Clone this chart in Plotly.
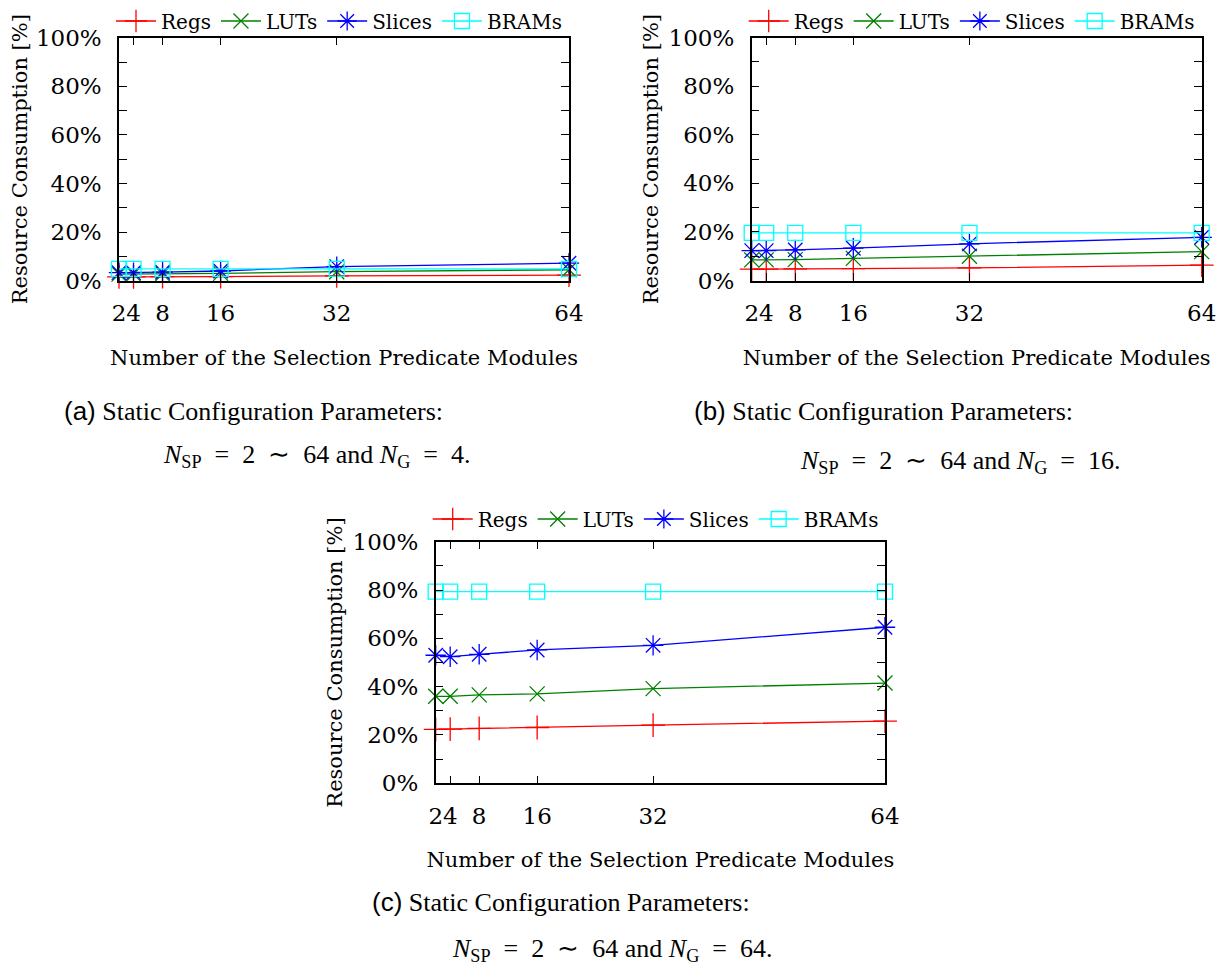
import plotly.graph_objects as go

# ---------------- data ----------------
x_modules = [2, 4, 8, 16, 32, 64]
x_ticklabels = ["2", "4", "8", "16", "32", "64"]
series_names = ["Regs", "LUTs", "Slices", "BRAMs"]

# (a) N_G = 4
regs_a = [1.6, 1.6, 1.7, 1.7, 2.0, 2.3]
luts_a = [2.7, 2.7, 2.8, 3.0, 3.7, 4.5]
slices_a = [3.3, 3.3, 3.5, 4.0, 5.8, 7.2]
brams_a = [4.9, 4.9, 4.9, 4.9, 4.9, 4.9]

# (b) N_G = 16
regs_b = [4.7, 4.7, 4.8, 4.9, 5.2, 6.3]
luts_b = [8.5, 8.5, 8.6, 9.1, 10.0, 11.9]
slices_b = [12.3, 12.3, 12.6, 13.3, 15.1, 17.8]
brams_b = [19.6, 19.6, 19.6, 19.6, 19.6, 19.6]

# (c) N_G = 64
regs_c = [22.3, 22.4, 22.7, 23.1, 24.1, 25.7]
luts_c = [36.0, 36.0, 36.6, 37.0, 39.2, 41.5]
slices_c = [53.0, 52.4, 53.4, 55.2, 57.1, 64.6]
brams_c = [79.3, 79.3, 79.3, 79.3, 79.3, 79.3]

y_tickvals = [0, 20, 40, 60, 80, 100]
y_ticktext = ["0%", "20%", "40%", "60%", "80%", "100%"]

x_title = "Number of the Selection Predicate Modules"
y_title = "Resource Consumption [%]"

captions = [
    ("(a)", "4"),
    ("(b)", "16"),
    ("(c)", "64"),
]

# ---------------- styles ----------------
colors = ["#ff0000", "#008000", "#0000ff", "#00ffff"]
symbols = ["cross-thin-open", "x-thin-open", "asterisk-open", "square-open"]
msizes = [17, 15, 17, 15]

W, H = 1230, 979
OFF = 8  # page body margin offset
def px_x(v):
    return (v - OFF) / W
def px_y(v):
    return 1 - (v - OFF) / H

# plot frames in reference pixels (left, right, top, bottom)
frames = [
    (119, 569, 37.7, 280.7),
    (751.7, 1201.7, 37.7, 280.5),
    (435.7, 885, 541.7, 783.3),
]
legend_y = [21, 21, 519]

panels = [
    [regs_a, luts_a, slices_a, brams_a],
    [regs_b, luts_b, slices_b, brams_b],
    [regs_c, luts_c, slices_c, brams_c],
]

FONT = "DejaVu Serif"
fig = go.Figure()

for p, data in enumerate(panels):
    xa = "x" if p == 0 else f"x{p+1}"
    ya = "y" if p == 0 else f"y{p+1}"
    lg = "legend" if p == 0 else f"legend{p+1}"
    for i, name in enumerate(series_names):
        fig.add_trace(go.Scatter(
            x=x_modules, y=data[i], name=name, mode="lines+markers",
            xaxis=xa, yaxis=ya, legend=lg, cliponaxis=False,
            line=dict(color=colors[i], width=1.3),
            marker=dict(symbol=symbols[i], size=msizes[i], color=colors[i],
                        line=dict(color=colors[i], width=1.3)),
        ))

layout = dict(
    width=W, height=H,
    margin=dict(l=0, r=0, t=0, b=0, autoexpand=False),
    paper_bgcolor="white", plot_bgcolor="white",
    font=dict(family=FONT, size=20, color="black"),
    showlegend=True,
)

for p, (l, r, t, b) in enumerate(frames):
    sx = "" if p == 0 else str(p + 1)
    layout[f"xaxis{sx}"] = dict(
        domain=[px_x(l), px_x(r)], range=[2, 64], anchor=f"y{sx}",
        tickvals=x_modules, ticktext=x_ticklabels, tickangle=0,
        ticks="inside", ticklen=8, tickwidth=1, tickcolor="black",
        showline=True, linecolor="black", linewidth=1.5, mirror="ticks",
        showgrid=False, zeroline=False, ticklabelstandoff=11,
        automargin=False,
        tickfont=dict(family=FONT, size=23),
        title=dict(text=x_title, standoff=25, font=dict(family=FONT, size=21)),
    )
    layout[f"yaxis{sx}"] = dict(
        domain=[px_y(b), px_y(t)], range=[0, 100], anchor=f"x{sx}",
        tickvals=y_tickvals, ticktext=y_ticktext,
        ticks="inside", ticklen=8, tickwidth=1, tickcolor="black",
        minor=dict(dtick=10, tick0=0, ticks="inside", ticklen=8,
                   tickwidth=1, tickcolor="black", showgrid=False),
        showline=True, linecolor="black", linewidth=1.5, mirror="ticks",
        showgrid=False, zeroline=False, ticklabelstandoff=11,
        automargin=False,
        tickfont=dict(family=FONT, size=23),
        title=dict(text=y_title, standoff=4, font=dict(family=FONT, size=21)),
    )
    lg = "legend" if p == 0 else f"legend{p+1}"
    layout[lg] = dict(
        x=px_x(l - 8), y=px_y(legend_y[p]), xanchor="left", yanchor="middle",
        orientation="h", bgcolor="rgba(0,0,0,0)", borderwidth=0,
        font=dict(family=FONT, size=20), itemwidth=40, tracegroupgap=0,
    )

fig.update_layout(**layout)

# captions
cap_pos = [
    # (line1 left x, line1 y, line2 center x, line2 y)
    (62, 411, 316, 456),
    (692, 411, 960, 462),
    (370, 902, 612, 950),
]
sp = "\u2002"
for (lab, ng), (x1, y1, x2, y2) in zip(captions, cap_pos):
    fig.add_annotation(
        xref="paper", yref="paper", x=px_x(x1), y=px_y(y1),
        xanchor="left", yanchor="middle", showarrow=False,
        text=f"<span style='font-family:Liberation Sans'>{lab}</span> Static Configuration Parameters:",
        font=dict(family="Liberation Serif", size=26, color="black"),
    )
    fig.add_annotation(
        xref="paper", yref="paper", x=px_x(x2), y=px_y(y2),
        xanchor="center", yanchor="middle", showarrow=False,
        text=(f"<i>N</i><sub>SP</sub>{sp}={sp}2{sp}∼{sp}64 and "
              f"<i>N</i><sub>G</sub>{sp}={sp}{ng}."),
        font=dict(family="Liberation Serif", size=26, color="black"),
    )

fig.write_html("out.html")
